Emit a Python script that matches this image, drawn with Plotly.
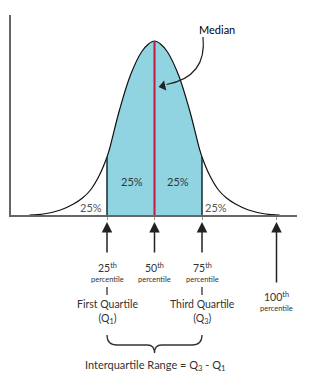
import plotly.graph_objects as go

# Bell curve (x: offset from median, y: height)
curve_x = [-12.5, -11.1, -9.4, -8.1, -7.2, -6.4, -5.5, -4.75, -4.5, -3.5, -2.4, -1.3, -0.6, 0.0,
           0.6, 1.3, 2.4, 3.5, 4.5, 4.75, 5.5, 6.4, 7.2, 8.1, 9.4, 11.1, 12.5]
curve_y = [0.0, 0.1, 0.5, 1.1, 1.7, 2.5, 4.0, 5.8, 6.6, 10.5, 14.0, 16.3, 17.1, 17.4,
           17.1, 16.3, 14.0, 10.5, 6.6, 5.8, 4.0, 2.5, 1.7, 1.1, 0.5, 0.1, 0.0]

q1, median, q3, p100 = -4.75, 0.0, 4.75, 12.2
quartile_heights = {"q1": 5.8, "median": 17.4, "q3": 5.8}

pct_labels = ["25%", "25%", "25%", "25%"]
pct_x = [-6.35, -2.25, 2.35, 6.15]
pct_y = [0.8, 3.4, 3.4, 0.8]
pct_colors = ["#555555", "#2b3a44", "#2b3a44", "#555555"]

FONT = "Lato"
DARK = "#222222"

fig = go.Figure()

# filled middle 50%
mid_x = [x for x in curve_x if q1 <= x <= q3]
mid_y = [y for x, y in zip(curve_x, curve_y) if q1 <= x <= q3]
fig.add_trace(go.Scatter(x=mid_x, y=mid_y, mode="lines", fill="tozeroy",
                         fillcolor="#8fd4e0", line=dict(color="rgba(0,0,0,0)", width=0, shape="spline"),
                         hoverinfo="skip"))
# curve
fig.add_trace(go.Scatter(x=curve_x, y=curve_y, mode="lines",
                         line=dict(color="#111111", width=1.2, shape="spline"), hoverinfo="skip"))
# quartile borders
for xv, h in [(q1, quartile_heights["q1"]), (q3, quartile_heights["q3"])]:
    fig.add_trace(go.Scatter(x=[xv, xv], y=[0, h], mode="lines",
                             line=dict(color="#1a2a33", width=1.5), hoverinfo="skip"))
# median line
fig.add_trace(go.Scatter(x=[median, median], y=[0, quartile_heights["median"]], mode="lines",
                         line=dict(color="#c2183c", width=2), hoverinfo="skip"))

# percentage labels
for t, xv, yv, c in zip(pct_labels, pct_x, pct_y, pct_colors):
    fig.add_annotation(x=xv, y=yv, text=t, showarrow=False,
                       font=dict(family=FONT, size=11, color=c))

# Median label + curved arrow
fig.add_annotation(x=6.25, y=18.6, text="Median", showarrow=False,
                   font=dict(family=FONT, size=11, color="#000000"))
fig.add_shape(type="path", xref="x", yref="y",
              path="M 4.85,17.8 C 5.1,15.4 4.1,13.6 1.2,13.05",
              line=dict(color=DARK, width=1.2))
fig.add_trace(go.Scatter(x=[0.85], y=[12.9], mode="markers",
                         marker=dict(symbol="triangle-left", size=9, angle=-12, color=DARK),
                         hoverinfo="skip"))

# bottom arrows
def py(p):  # pixel row -> paper y
    return (215 - p) / 200.0

arrow_x = [q1, median, q3, p100]
arrow_len = [32, 32, 32, 62]
for xv, length in zip(arrow_x, arrow_len):
    fig.add_annotation(x=xv, y=py(222), xref="x", yref="paper", ax=0, ay=length,
                       text="", showarrow=True, arrowhead=2, arrowsize=1.4,
                       arrowwidth=1.5, arrowcolor=DARK)

def label(xv, p, text, size):
    fig.add_annotation(x=xv, y=py(p), xref="x", yref="paper", text=text, showarrow=False,
                       yanchor="middle", xanchor="center",
                       font=dict(family=FONT, size=size, color="#333333"))

sup_labels = ["25<sup>th</sup>", "50<sup>th</sup>", "75<sup>th</sup>"]
for t, xv in zip(sup_labels, [q1, median, q3]):
    label(xv, 267, t, 10.5)
    label(xv, 279, "percentile", 7.5)

label(p100, 296, "100<sup>th</sup>", 10.5)
label(p100, 308, "percentile", 7.5)

for xv in [q1, q3]:
    fig.add_shape(type="line", xref="x", yref="paper", x0=xv, x1=xv, y0=py(287), y1=py(295),
                  line=dict(color="#333333", width=1.3))

for t, xv in [("First Quartile<br>(Q<sub>1</sub>)", q1), ("Third Quartile<br>(Q<sub>3</sub>)", q3)]:
    label(xv, 312, t, 10.5)

# brace
mid = (q1 + q3) / 2
yt, ym, yb = py(335), py(345), py(353)
brace = (f"M {q1},{yt} Q {q1},{ym} {q1+1.0},{ym} L {mid-0.7},{ym} Q {mid},{ym} {mid},{yb} "
         f"Q {mid},{ym} {mid+0.7},{ym} L {q3-1.0},{ym} Q {q3},{ym} {q3},{yt}")
fig.add_shape(type="path", xref="x", yref="paper", path=brace, line=dict(color="#333333", width=1.3))

label(mid, 365, "Interquartile Range = Q<sub>3</sub> - Q<sub>1</sub>", 11)

fig.update_layout(
    width=310, height=382, margin=dict(l=11, r=13, t=15, b=167),
    paper_bgcolor="white", plot_bgcolor="white", showlegend=False, hovermode=False,
    xaxis=dict(range=[-14.35, 14.25], showgrid=False, zeroline=False, showline=True,
               linecolor="#666666", linewidth=1.5, tickvals=[q1, median, q3, p100],
               ticktext=["", "", "", ""], ticks="outside", ticklen=3, tickcolor="#999999", fixedrange=True),
    yaxis=dict(range=[0, 20], showgrid=False, zeroline=False, showline=True,
               linecolor="#666666", linewidth=1.5, showticklabels=False, ticks="", fixedrange=True),
)

fig.write_html("out.html")
